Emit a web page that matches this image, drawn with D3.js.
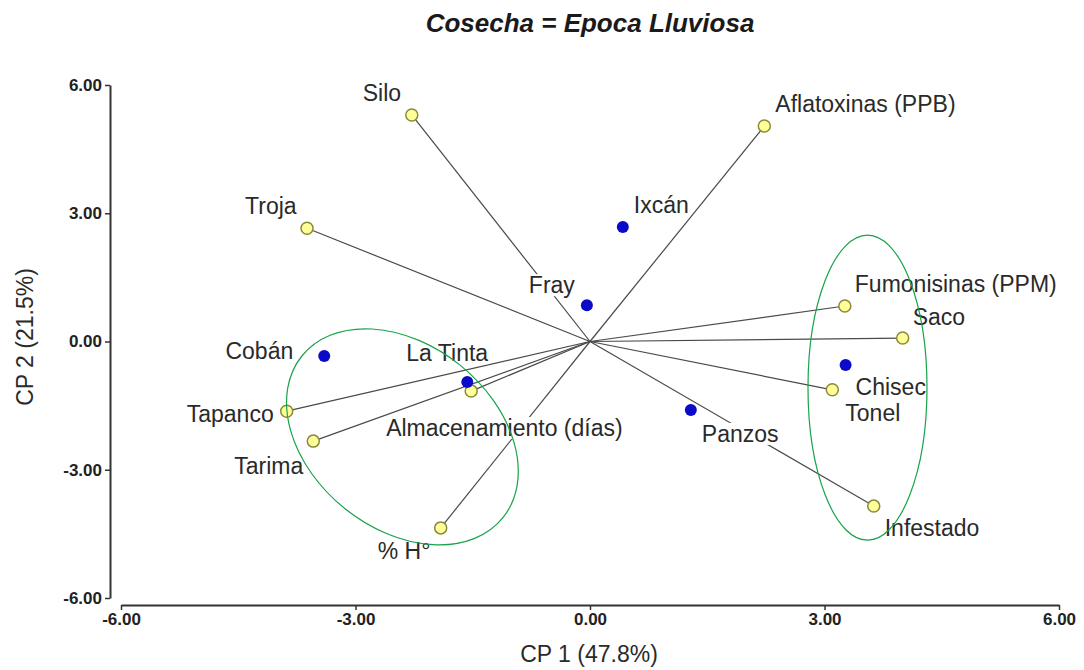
<!DOCTYPE html>
<html>
<head>
<meta charset="utf-8">
<script src="https://d3js.org/d3.v7.min.js"></script>
<style>
  body { margin: 0; background: #fff; }
  text { font-family: "Liberation Sans", Arial, sans-serif; }
</style>
</head>
<body>
<div id="biplot"></div>
<script>
// variables (vectors) - CP1, CP2 scores
const varNames = ["Silo", "Aflatoxinas (PPB)", "Troja", "Fumonisinas (PPM)", "Saco", "Tonel",
                  "Infestado", "Tapanco", "Tarima", "Almacenamiento (días)", "% H°"];
const varCP1 = [-2.28, 2.23, -3.62, 3.26, 4.00, 3.10, 3.63, -3.88, -3.54, -1.52, -1.91];
const varCP2 = [5.30, 5.04, 2.65, 0.83, 0.08, -1.13, -3.85, -1.63, -2.33, -1.16, -4.36];

// sites (observations)
const siteNames = ["Ixcán", "Fray", "Cobán", "La Tinta", "Chisec", "Panzos"];
const siteCP1 = [0.42, -0.04, -3.40, -1.57, 3.27, 1.29];
const siteCP2 = [2.68, 0.85, -0.34, -0.95, -0.55, -1.60];

const tickVals = [-6, -3, 0, 3, 6];

// label placement (pixel offsets from the point)
const labelPos = {
  "Silo": [-49, -14, "start"],
  "Aflatoxinas (PPB)": [11, -14, "start"],
  "Troja": [-62, -14, "start"],
  "Fumonisinas (PPM)": [10, -14, "start"],
  "Saco": [10, -13, "start"],
  "Tonel": [13, 31, "start"],
  "Infestado": [11, 30, "start"],
  "Tapanco": [-13, 11, "end"],
  "Tarima": [-10, 33, "end"],
  "Almacenamiento (días)": [-85, 45, "start"],
  "% H°": [-63, 31, "start"],
  "Ixcán": [11, -14, "start"],
  "Fray": [-12, -12, "end"],
  "Cobán": [-31, 3, "end"],
  "La Tinta": [-61, -21, "start"],
  "Chisec": [10, 30, "start"],
  "Panzos": [11, 32, "start"]
};

const width = 1084, height = 670;

const svg = d3.select("#biplot").append("svg")
    .attr("width", width)
    .attr("height", height);

const xScale = d3.scaleLinear().domain([-6, 6]).range([121, 1059]);
const yScale = d3.scaleLinear().domain([-6, 6]).range([598, 85]);

const vars = varNames.map((n, i) => ({name: n, x: varCP1[i], y: varCP2[i]}));
const sites = siteNames.map((n, i) => ({name: n, x: siteCP1[i], y: siteCP2[i]}));

const fmt = d => d3.format(".2f")(d).replace("−", "-");

// axes
const xAxis = svg.append("g")
    .attr("transform", "translate(0,605)")
    .call(d3.axisBottom(xScale).tickValues(tickVals).tickFormat(fmt)
        .tickSize(5).tickSizeOuter(0).tickPadding(3));
const yAxis = svg.append("g")
    .attr("transform", "translate(110,0)")
    .call(d3.axisLeft(yScale).tickValues(tickVals).tickFormat(fmt)
        .tickSize(5).tickSizeOuter(0).tickPadding(3));

[xAxis, yAxis].forEach(ax => {
    ax.select(".domain").attr("stroke", "#333").attr("stroke-width", 2);
    ax.selectAll(".tick line").attr("stroke", "#333").attr("stroke-width", 1.5);
    ax.selectAll(".tick text")
        .attr("fill", "#222")
        .style("font-size", "17px")
        .style("font-weight", "bold")
        .style("font-family", "'Liberation Sans', Arial, sans-serif");
});

// vectors from origin
svg.append("g").selectAll("line")
    .data(vars)
    .join("line")
    .attr("x1", xScale(0))
    .attr("y1", yScale(0))
    .attr("x2", d => xScale(d.x))
    .attr("y2", d => yScale(d.y))
    .attr("stroke", "#4a4a4a")
    .attr("stroke-width", 1.2);

// labels with white background
const labelG = svg.append("g");
vars.concat(sites).forEach(d => {
    const p = labelPos[d.name];
    const g = labelG.append("g");
    const t = g.append("text")
        .attr("x", xScale(d.x) + p[0])
        .attr("y", yScale(d.y) + p[1])
        .attr("text-anchor", p[2])
        .attr("fill", "#2a2a2a")
        .style("font-size", "23px")
        .text(d.name);
    const bb = t.node().getBBox();
    g.insert("rect", "text")
        .attr("x", bb.x - 1)
        .attr("y", bb.y + 2)
        .attr("width", bb.width + 2)
        .attr("height", bb.height - 4)
        .attr("fill", "#fff");
});

// points
svg.append("g").selectAll("circle")
    .data(vars)
    .join("circle")
    .attr("cx", d => xScale(d.x))
    .attr("cy", d => yScale(d.y))
    .attr("r", 6)
    .attr("fill", "#ffff99")
    .attr("stroke", "#8a8a3a")
    .attr("stroke-width", 1.5);

svg.append("g").selectAll("circle")
    .data(sites)
    .join("circle")
    .attr("cx", d => xScale(d.x))
    .attr("cy", d => yScale(d.y))
    .attr("r", 6)
    .attr("fill", "#0a0ac8");

// grouping ellipses
svg.append("ellipse")
    .attr("transform", `translate(${xScale(-2.40)},${yScale(-2.23)}) rotate(38.8)`)
    .attr("rx", 129)
    .attr("ry", 92)
    .attr("fill", "none")
    .attr("stroke", "#16a34a")
    .attr("stroke-width", 1.2);

svg.append("ellipse")
    .attr("cx", xScale(3.55))
    .attr("cy", yScale(-1.08))
    .attr("rx", 59.5)
    .attr("ry", 152.5)
    .attr("fill", "none")
    .attr("stroke", "#16a34a")
    .attr("stroke-width", 1.2);

// titles
svg.append("text")
    .attr("x", 590)
    .attr("y", 32)
    .attr("text-anchor", "middle")
    .attr("fill", "#1a1a1a")
    .style("font-size", "26px")
    .style("font-weight", "bold")
    .style("font-style", "italic")
    .text("Cosecha = Epoca Lluviosa");

svg.append("text")
    .attr("x", 589)
    .attr("y", 662)
    .attr("text-anchor", "middle")
    .attr("fill", "#2a2a2a")
    .style("font-size", "23px")
    .text("CP 1 (47.8%)");

svg.append("text")
    .attr("transform", "translate(33,337) rotate(-90)")
    .attr("text-anchor", "middle")
    .attr("fill", "#2a2a2a")
    .style("font-size", "23px")
    .text("CP 2 (21.5%)");
</script>
</body>
</html>
